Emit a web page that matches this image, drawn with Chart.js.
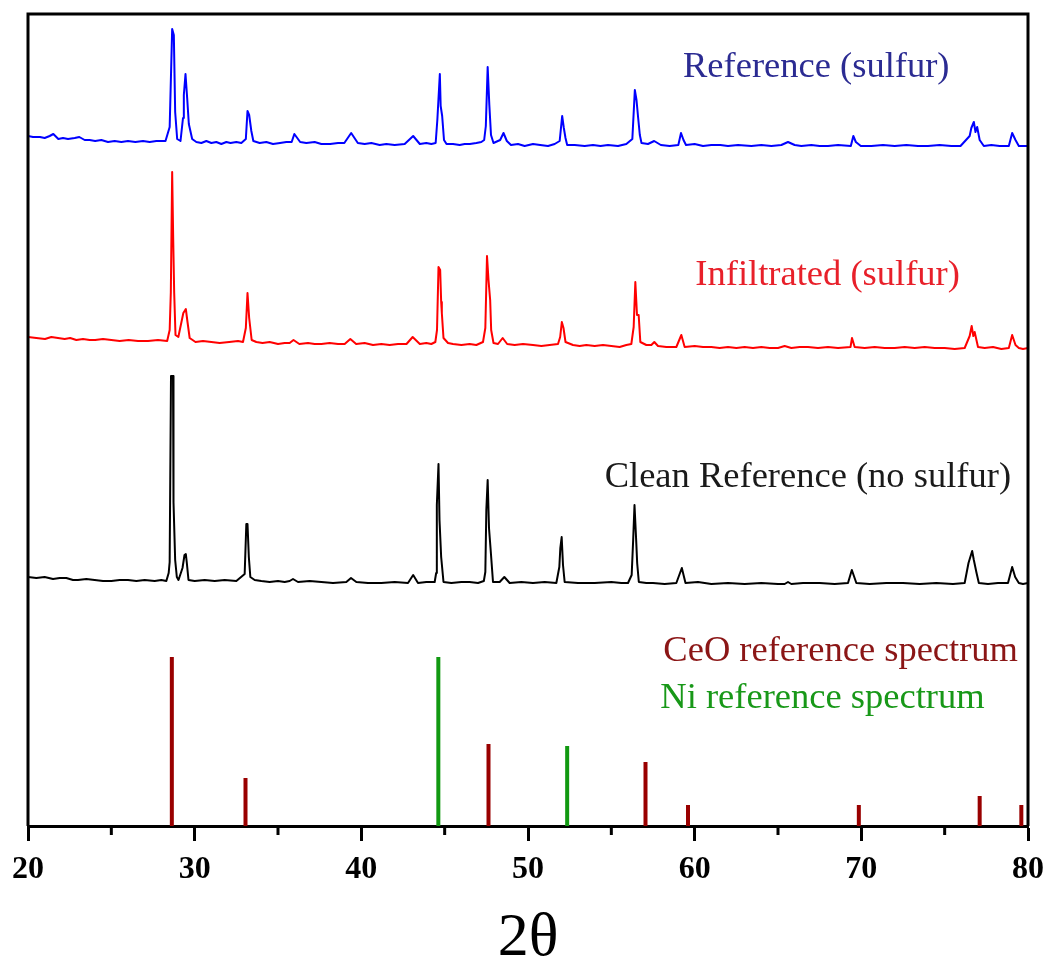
<!DOCTYPE html>
<html>
<head>
<meta charset="utf-8">
<script src="https://cdn.jsdelivr.net/npm/chart.js@4.4.1/dist/chart.umd.min.js"></script>
<style>
  html, body { margin: 0; padding: 0; background: #fff; }
  canvas { display: block; }
</style>
</head>
<body>
<canvas id="xrd" width="1047" height="960"></canvas>
<script>
// 2θ axis labels
const xTicks = [20, 30, 40, 50, 60, 70, 80];
const xMinorTicks = [25, 35, 45, 55, 65, 75];

// Diffraction traces: [2θ, intensity (stacked, arbitrary units)]
const refSulfur = [
  [20.0,690],[20.3,689],[20.72,689],[21.0,688],[21.3,690],[21.52,692],[21.82,687],[22.1,688],[22.4,687],
  [22.8,688],[23.08,689],[23.4,686],[23.7,686],[24.03,685],[24.4,686],[24.8,684],[25.2,685],[25.6,684],
  [26.0,685],[26.44,684],[26.9,685],[27.3,684],[27.7,685],[28.25,685],[28.5,699],[28.65,797],[28.75,791],
  [28.83,714],[28.95,687],[29.15,685],[29.3,708],[29.35,731],[29.45,752],[29.55,728],[29.65,702],
  [29.85,687],[30.1,684],[30.4,683],[30.7,685],[31.0,683],[31.3,684],[31.6,682],[31.9,684],[32.15,683],
  [32.5,684],[32.8,683],[33.07,687],[33.17,715],[33.27,711],[33.4,695],[33.52,685],[33.9,683],[34.3,684],
  [34.7,682],[35.12,683],[35.5,684],[35.82,684],[35.98,692],[36.33,684],[36.7,683],[37.2,684],[37.6,682],
  [38.13,682],[38.6,683],[38.98,683],[39.39,693],[39.79,683],[40.2,682],[40.6,683],[41.1,681],[41.5,682],
  [42.0,681],[42.6,682],[43.11,690],[43.51,682],[43.9,683],[44.2,682],[44.46,683],[44.56,706],
  [44.71,752],[44.76,720],[44.85,710],[44.96,686],[45.11,682],[45.5,682],[45.9,681],[46.2,682],[46.51,682],
  [46.9,683],[47.2,684],[47.37,686],[47.47,700],[47.58,759],[47.68,721],[47.78,691],[47.93,683],
  [48.33,686],[48.53,693],[48.73,685],[48.98,681],[49.4,682],[49.8,680],[50.3,682],[50.73,681],[51.2,680],
  [51.6,682],[51.9,685],[52.05,710],[52.15,698],[52.25,688],[52.35,681],[52.8,681],[53.4,680],[53.9,681],
  [54.35,680],[54.8,681],[55.4,680],[55.9,682],[56.26,687],[56.41,736],[56.51,726],[56.61,708],
  [56.71,691],[56.81,683],[57.2,682],[57.57,685],[57.97,681],[58.5,680],[59.02,681],[59.18,693],
  [59.33,686],[59.48,681],[60.0,682],[60.5,680],[61.0,681],[61.54,681],[62.0,680],[62.6,681],[63.4,680],
  [64.0,681],[64.6,680],[65.2,681],[65.6,684],[66.0,681],[66.4,680],[67.0,681],[67.5,680],[68.0,680],
  [68.6,681],[69.37,680],[69.52,690],[69.67,684],[69.97,680],[70.6,680],[71.3,681],[72.0,680],
  [72.7,681],[73.4,680],[74.0,680],[74.7,681],[75.4,680],[75.95,680],[76.5,690],[76.6,698],
  [76.75,704],[76.85,694],[76.95,699],[77.1,686],[77.35,680],[77.8,681],[78.3,680],[78.85,680],
  [79.05,693],[79.25,686],[79.45,680],[79.7,680],[80.0,680]
];

const infiltratedSulfur = [
  [20.0,489],[20.5,488],[21.02,487],[21.4,489],[21.8,488],[22.2,487],[22.53,488],[22.9,486],[23.3,487],
  [23.7,486],[24.03,486],[24.5,487],[25.0,486],[25.5,485],[26.04,486],[26.6,485],[27.2,485],[27.8,486],
  [28.35,485],[28.5,496],[28.57,534],[28.65,654],[28.71,589],[28.77,534],[28.85,491],[29.02,489],
  [29.17,501],[29.32,513],[29.47,517],[29.57,504],[29.7,488],[30.05,484],[30.5,485],[31.0,484],
  [31.5,483],[32.07,484],[32.6,485],[32.9,484],[33.07,498],[33.17,533],[33.27,508],[33.42,486],
  [33.7,484],[34.07,483],[34.5,484],[35.0,482],[35.4,483],[35.7,483],[35.93,486],[36.28,482],
  [36.8,483],[37.2,482],[37.6,482],[38.1,483],[38.6,482],[39.0,482],[39.34,487],[39.69,482],
  [40.2,483],[40.7,481],[41.2,482],[41.7,481],[42.2,482],[42.71,482],[43.08,489],[43.51,482],
  [43.9,483],[44.2,482],[44.44,484],[44.54,496],[44.63,559],[44.73,556],[44.79,524],[44.83,513],
  [44.93,488],[45.2,483],[45.5,482],[46.0,481],[46.5,482],[46.9,481],[47.3,484],[47.44,498],
  [47.54,570],[47.63,546],[47.73,526],[47.79,496],[47.93,483],[48.2,482],[48.48,488],[48.75,482],
  [49.2,481],[49.7,482],[50.3,481],[50.8,480],[51.3,481],[51.8,482],[51.93,489],[52.03,504],
  [52.13,498],[52.25,484],[52.7,481],[53.1,480],[53.5,481],[54.0,480],[54.5,481],[55.0,480],
  [55.5,479],[55.9,481],[56.2,482],[56.34,499],[56.44,544],[56.54,511],[56.64,511],[56.74,484],
  [57.1,481],[57.4,481],[57.58,484],[57.8,480],[58.3,479],[58.9,479],[59.2,491],[59.4,479],
  [60.0,480],[60.5,479],[61.0,479],[61.5,478],[62.0,479],[62.5,478],[63.0,479],[63.5,478],[64.0,479],
  [64.5,478],[65.0,478],[65.4,480],[65.8,478],[66.3,479],[66.8,479],[67.4,478],[68.0,479],[68.6,478],
  [69.35,479],[69.44,488],[69.6,479],[70.2,478],[70.8,479],[71.4,478],[72.0,478],[72.6,479],
  [73.2,478],[73.8,479],[74.4,478],[75.0,478],[75.6,477],[76.2,478],[76.5,490],[76.62,500],
  [76.72,490],[76.8,494],[77.0,479],[77.4,478],[77.9,479],[78.4,477],[78.85,478],[79.05,491],
  [79.25,481],[79.45,478],[79.7,477],[80.0,478]
];

const cleanReference = [
  [20.0,249],[20.5,248],[21.0,249],[21.5,247],[21.9,248],[22.3,248],[22.7,246],[23.0,246],[23.5,247],
  [24.0,246],[24.5,245],[25.0,245],[25.5,246],[26.0,246],[26.5,245],[27.0,246],[27.6,245],[28.0,246],
  [28.3,245],[28.44,253],[28.5,264],[28.58,450],[28.7,450],[28.73,324],[28.83,266],[28.93,249],
  [29.03,246],[29.27,258],[29.39,271],[29.47,272],[29.53,263],[29.63,246],[30.0,245],[30.6,246],
  [31.2,245],[31.8,246],[32.5,245],[33.0,252],[33.1,302],[33.17,302],[33.25,269],[33.34,249],
  [33.6,246],[34.0,245],[34.5,244],[35.0,245],[35.4,244],[35.7,245],[35.9,247],[36.2,244],[36.9,245],
  [37.6,244],[38.3,243],[39.1,244],[39.38,248],[39.7,244],[40.4,243],[41.2,243],[42.0,244],[42.8,243],
  [43.11,251],[43.4,243],[43.9,244],[44.4,244],[44.49,253],[44.53,321],[44.63,362],[44.69,306],
  [44.79,269],[44.93,244],[45.4,243],[46.0,244],[46.5,244],[47.0,243],[47.35,245],[47.44,254],
  [47.5,316],[47.58,346],[47.66,298],[47.76,276],[47.9,244],[48.3,244],[48.58,249],[48.9,243],
  [49.6,244],[50.3,243],[51.0,244],[51.7,243],[51.88,259],[51.94,278],[52.02,289],[52.1,261],
  [52.2,244],[53.0,243],[54.0,243],[55.0,244],[55.6,243],[56.0,243],[56.22,251],[56.31,286],
  [56.39,321],[56.49,286],[56.55,263],[56.65,244],[57.1,243],[57.5,243],[58.2,242],[58.9,243],
  [59.23,258],[59.45,243],[60.2,244],[61.0,242],[62.0,243],[63.0,242],[64.0,243],[65.0,242],
  [65.4,242],[65.6,244],[65.8,242],[66.5,243],[67.5,243],[68.4,242],[69.2,243],[69.43,256],
  [69.7,243],[70.5,242],[71.5,243],[72.5,243],[73.5,242],[74.5,243],[75.5,242],[76.2,243],
  [76.43,263],[76.65,275],[76.75,266],[76.9,254],[77.05,243],[77.6,242],[78.2,243],[78.8,243],
  [79.05,259],[79.23,249],[79.45,243],[79.7,242],[80.0,243]
];

// Reference line patterns: positions (2θ) and stick heights
const ceoPeaks = [28.63, 33.05, 47.63, 57.05, 59.6, 69.85, 77.1, 79.6];
const ceoIntensity = [169, 48, 82, 64, 21, 21, 30, 21];
const niPeaks = [44.62, 52.35];
const niIntensity = [169, 80];

const toPoints = pairs => pairs.map(([x, y]) => ({ x, y }));
const toSticks = (pos, h) => {
  const pts = [];
  pos.forEach((x, i) => { pts.push({ x, y: 0 }, { x, y: h[i] }, { x, y: null }); });
  return pts;
};

const traceStyle = { showLine: true, pointRadius: 0, borderWidth: 2, tension: 0, borderJoinStyle: 'round' };
const stickStyle = { showLine: true, pointRadius: 0, borderWidth: 4, tension: 0, spanGaps: false, borderCapStyle: 'butt' };

const serif = '"Liberation Serif", "Times New Roman", serif';

const captions = [
  { text: 'Reference (sulfur)', x: 59.3, y: 749, color: '#2b2b92' },
  { text: 'Infiltrated (sulfur)', x: 60.04, y: 541, color: '#e8202a' },
  { text: 'Clean Reference (no sulfur)', x: 54.6, y: 339, color: '#1a1a1a' },
  { text: 'CeO reference spectrum', x: 58.12, y: 165, color: '#8b1616' },
  { text: 'Ni reference spectrum', x: 57.94, y: 118, color: '#189818' }
];

const framePlugin = {
  id: 'frame',
  afterDraw(chart) {
    const { ctx, chartArea: a, scales } = chart;
    ctx.save();
    ctx.strokeStyle = '#000';
    ctx.lineWidth = 3;
    ctx.beginPath();
    ctx.moveTo(a.left, a.bottom);
    ctx.lineTo(a.left, a.top);
    ctx.lineTo(a.right, a.top);
    ctx.lineTo(a.right, a.bottom);
    ctx.stroke();
    // minor ticks on the 2θ axis
    ctx.beginPath();
    xMinorTicks.forEach(v => {
      const px = scales.x.getPixelForValue(v);
      ctx.moveTo(px, a.bottom);
      ctx.lineTo(px, a.bottom + 9);
    });
    ctx.stroke();
    // trace captions
    ctx.font = '36.5px ' + serif;
    ctx.textAlign = 'left';
    ctx.textBaseline = 'alphabetic';
    captions.forEach(c => {
      ctx.fillStyle = c.color;
      ctx.fillText(c.text, scales.x.getPixelForValue(c.x), scales.y.getPixelForValue(c.y));
    });
    ctx.restore();
  }
};

new Chart(document.getElementById('xrd'), {
  type: 'scatter',
  data: {
    datasets: [
      { label: 'CeO reference spectrum', data: toSticks(ceoPeaks, ceoIntensity), borderColor: '#990000', ...stickStyle },
      { label: 'Ni reference spectrum', data: toSticks(niPeaks, niIntensity), borderColor: '#119911', ...stickStyle },
      { label: 'Clean Reference (no sulfur)', data: toPoints(cleanReference), borderColor: '#000000', ...traceStyle },
      { label: 'Infiltrated (sulfur)', data: toPoints(infiltratedSulfur), borderColor: '#ff0000', ...traceStyle },
      { label: 'Reference (sulfur)', data: toPoints(refSulfur), borderColor: '#0000ff', ...traceStyle }
    ]
  },
  options: {
    responsive: false,
    animation: false,
    devicePixelRatio: 1,
    layout: { padding: { left: 28, right: 19, top: 14, bottom: 0 } },
    plugins: { legend: { display: false }, tooltip: { enabled: false } },
    scales: {
      x: {
        type: 'linear',
        min: 20,
        max: 80,
        afterBuildTicks: s => { s.ticks = xTicks.map(v => ({ value: v })); },
        afterFit: s => { s.height = 134; s.paddingLeft = 0; s.paddingRight = 0; },
        grid: { drawOnChartArea: false, drawTicks: true, tickLength: 15, tickWidth: 3, tickColor: '#000' },
        border: { display: true, color: '#000', width: 3 },
        ticks: { color: '#000', padding: 10, maxRotation: 0, font: { family: serif, size: 32, weight: 'bold' } },
        title: {
          display: true, text: '2θ', color: '#000',
          font: { family: serif, size: 62, lineHeight: 0.6 },
          padding: { top: 0, bottom: 3 }
        }
      },
      y: { display: false, min: 0, max: 812 }
    }
  },
  plugins: [framePlugin]
});
</script>
</body>
</html>
